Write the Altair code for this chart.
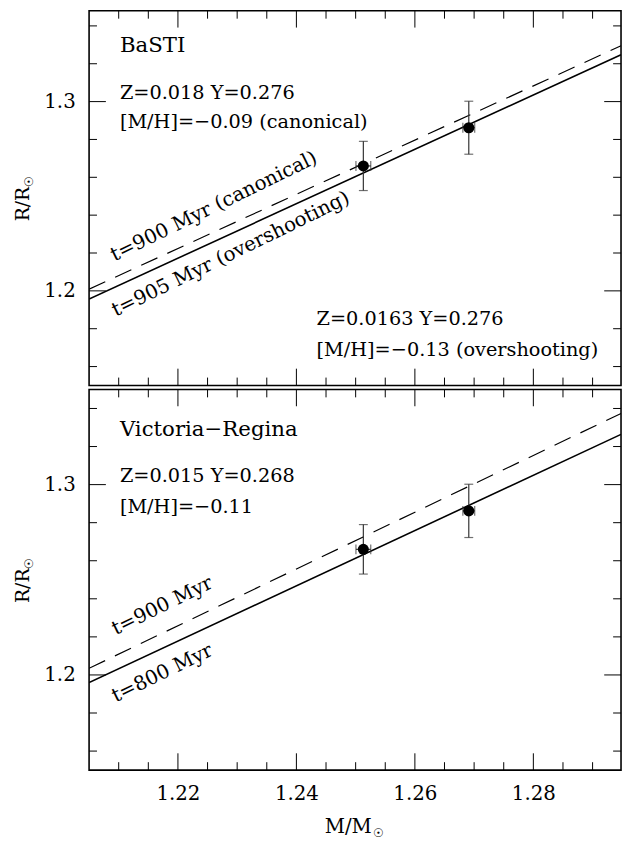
import altair as alt
import pandas as pd

FONT = "DejaVu Serif"

# ---- axes ranges / ticks ----
x_domain = [1.205, 1.2948]
y_domain_top = [1.15, 1.348]
y_domain_bot = [1.15, 1.35]

x_major = [1.22, 1.24, 1.26, 1.28]
x_minor = [1.21, 1.215, 1.225, 1.23, 1.235, 1.245, 1.25, 1.255,
           1.265, 1.27, 1.275, 1.285, 1.29]
y_major = [1.2, 1.3]
y_minor = [1.16, 1.18, 1.22, 1.24, 1.26, 1.28, 1.32, 1.34]

# ---- observed stars ----
mass = [1.2513, 1.2691]
mass_err = [0.00125, 0.0010]
radius = [1.2660, 1.2862]
radius_err = [0.0130, 0.0140]

# ---- isochrones (R at the two ends of the mass range) ----
line_mass = [1.205, 1.2948]
basti_overshoot = [1.1957, 1.3248]   # t=905 Myr (overshooting), solid
basti_canonical = [1.2009, 1.3295]   # t=900 Myr (canonical), dashed
vr_800 = [1.1960, 1.3264]            # t=800 Myr, solid
vr_900 = [1.2035, 1.3374]            # t=900 Myr, dashed

# ---- annotations ----
top_labels = ["BaSTI", "Z=0.018 Y=0.276", "[M/H]=\u22120.09 (canonical)",
              "Z=0.0163 Y=0.276", "[M/H]=\u22120.13 (overshooting)"]
top_label_x = [1.2102, 1.2102, 1.2102, 1.2434, 1.2434]
top_label_y = [1.3291, 1.3045, 1.2893, 1.1849, 1.1688]
top_label_size = [21.5, 19.5, 19.5, 19.5, 19.5]

top_rot_labels = ["t=900 Myr (canonical)", "t=905 Myr (overshooting)"]
top_rot_x = [1.2093, 1.2095]
top_rot_y = [1.2155, 1.1863]

bot_labels = ["Victoria\u2212Regina", "Z=0.015 Y=0.268", "[M/H]=\u22120.11"]
bot_label_x = [1.2102, 1.2102, 1.2102]
bot_label_y = [1.3287, 1.3043, 1.2882]
bot_label_size = [21.5, 19.5, 19.5]

bot_rot_labels = ["t=900 Myr", "t=800 Myr"]
bot_rot_x = [1.2095, 1.2095]
bot_rot_y = [1.2209, 1.1855]

x_title = ["M/M", "\u2609"]
y_title = ["R/R", "\u2609"]

W = 538
H_TOP = 379
H_BOT = 385
MAJ = 17
MIN = 8


def tick_layers(h, ydom):
    xs = alt.Scale(domain=x_domain, nice=False, zero=False)
    ys = alt.Scale(domain=ydom, nice=False, zero=False)
    layers = []
    for vals, ln in ((x_major, MAJ), (x_minor, MIN)):
        df = pd.DataFrame({"t": vals})
        for y0, y1 in ((h, h - ln), (0, ln)):
            layers.append(alt.Chart(df).mark_rule(color="black", strokeWidth=1).encode(
                x=alt.X("t:Q", scale=xs), y=alt.value(y0), y2=alt.value(y1)))
    for vals, ln in ((y_major, MAJ), (y_minor, MIN)):
        df = pd.DataFrame({"t": vals})
        for x0, x1 in ((0, ln), (W, W - ln)):
            layers.append(alt.Chart(df).mark_rule(color="black", strokeWidth=1).encode(
                y=alt.Y("t:Q", scale=ys), x=alt.value(x0), x2=alt.value(x1)))
    return layers


def title_layers(h, bottom):
    layers = []
    # y title (rotated, reading upwards), subscript sun symbol
    ydf = pd.DataFrame({"t": [y_title[0]]})
    layers.append(alt.Chart(ydf).mark_text(
        font=FONT, fontSize=19, angle=270, align="center", baseline="middle",
        color="black").encode(text="t:N", x=alt.value(-67), y=alt.value(h / 2 + 6)))
    sdf = pd.DataFrame({"t": [y_title[1]]})
    layers.append(alt.Chart(sdf).mark_text(
        font=FONT, fontSize=12, angle=270, align="left", baseline="middle",
        color="black").encode(text="t:N", x=alt.value(-61), y=alt.value(h / 2 - 11)))
    if bottom:
        xdf = pd.DataFrame({"t": [x_title[0]]})
        layers.append(alt.Chart(xdf).mark_text(
            font=FONT, fontSize=20, align="right", baseline="alphabetic",
            color="black").encode(text="t:N", x=alt.value(W / 2 + 17), y=alt.value(h + 64)))
        xsdf = pd.DataFrame({"t": [x_title[1]]})
        layers.append(alt.Chart(xsdf).mark_text(
            font=FONT, fontSize=12, align="left", baseline="alphabetic",
            color="black").encode(text="t:N", x=alt.value(W / 2 + 18), y=alt.value(h + 68)))
    return layers


def panel(h, ydom, solid, dashed, labels, lx, ly, lsize, rlabels, rx, ry, angle, bottom):
    xs = alt.Scale(domain=x_domain, nice=False, zero=False)
    ys = alt.Scale(domain=ydom, nice=False, zero=False)
    if bottom:
        xaxis = alt.Axis(values=x_major, format=".2f", title=None,
                         labelFontSize=20, labelPadding=14)
    else:
        xaxis = None
    yaxis = alt.Axis(values=y_major, format=".1f", title=None,
                     labelFontSize=20, labelPadding=14)

    lines = pd.DataFrame({
        "m": line_mass + line_mass,
        "r": solid + dashed,
        "kind": ["solid", "solid", "dashed", "dashed"],
    })
    base_line = alt.Chart(lines).encode(
        x=alt.X("m:Q", scale=xs, axis=xaxis),
        y=alt.Y("r:Q", scale=ys, axis=yaxis),
    )
    solid_line = base_line.transform_filter(alt.datum.kind == "solid").mark_line(
        color="black", strokeWidth=1.6, clip=True)
    dashed_line = base_line.transform_filter(alt.datum.kind == "dashed").mark_line(
        color="black", strokeWidth=1.2, strokeDash=[18, 11], clip=True)

    pts = pd.DataFrame({"m": mass, "me": mass_err, "r": radius, "re": radius_err})
    pts["m_lo"] = pts["m"] - pts["me"]
    pts["m_hi"] = pts["m"] + pts["me"]
    pts["r_lo"] = pts["r"] - pts["re"]
    pts["r_hi"] = pts["r"] + pts["re"]
    pbase = alt.Chart(pts)
    ebar_col = "#333333"
    vbar = pbase.mark_rule(color=ebar_col, strokeWidth=1.2).encode(
        x=alt.X("m:Q", scale=xs), y=alt.Y("r_lo:Q", scale=ys), y2="r_hi:Q")
    vcap_lo = pbase.mark_tick(orient="horizontal", size=9, thickness=1.2, color=ebar_col).encode(
        x=alt.X("m:Q", scale=xs), y=alt.Y("r_lo:Q", scale=ys))
    vcap_hi = pbase.mark_tick(orient="horizontal", size=9, thickness=1.2, color=ebar_col).encode(
        x=alt.X("m:Q", scale=xs), y=alt.Y("r_hi:Q", scale=ys))
    hbar = pbase.mark_rule(color=ebar_col, strokeWidth=1.2).encode(
        x=alt.X("m_lo:Q", scale=xs), x2="m_hi:Q", y=alt.Y("r:Q", scale=ys))
    hcap_lo = pbase.mark_tick(orient="vertical", size=10, thickness=1.2, color=ebar_col).encode(
        x=alt.X("m_lo:Q", scale=xs), y=alt.Y("r:Q", scale=ys))
    hcap_hi = pbase.mark_tick(orient="vertical", size=10, thickness=1.2, color=ebar_col).encode(
        x=alt.X("m_hi:Q", scale=xs), y=alt.Y("r:Q", scale=ys))
    dots = pbase.mark_circle(size=125, color="black", opacity=1).encode(
        x=alt.X("m:Q", scale=xs), y=alt.Y("r:Q", scale=ys))

    lab = pd.DataFrame({"txt": labels, "x": lx, "y": ly, "s": lsize})
    texts = alt.Chart(lab).mark_text(align="left", baseline="middle", font=FONT,
                                     color="black").encode(
        x=alt.X("x:Q", scale=xs), y=alt.Y("y:Q", scale=ys), text="txt:N",
        size=alt.Size("s:Q", scale=None, legend=None))

    rlab = pd.DataFrame({"txt": rlabels, "x": rx, "y": ry})
    rtexts = alt.Chart(rlab).mark_text(align="left", baseline="alphabetic", font=FONT,
                                       fontSize=20, angle=angle, color="black").encode(
        x=alt.X("x:Q", scale=xs), y=alt.Y("y:Q", scale=ys), text="txt:N")

    layers = ([solid_line, dashed_line, vbar, vcap_lo, vcap_hi, hbar, hcap_lo, hcap_hi,
               dots, texts, rtexts] + tick_layers(h, ydom) + title_layers(h, bottom))
    return alt.layer(*layers).properties(width=W, height=h)


top = panel(H_TOP, y_domain_top, basti_overshoot, basti_canonical,
            top_labels, top_label_x, top_label_y, top_label_size,
            top_rot_labels, top_rot_x, top_rot_y, 334, False)
bot = panel(H_BOT, y_domain_bot, vr_800, vr_900,
            bot_labels, bot_label_x, bot_label_y, bot_label_size,
            bot_rot_labels, bot_rot_x, bot_rot_y, 334, True)

chart = alt.vconcat(top, bot, spacing=0).properties(
    padding={"left": 5, "top": -4, "right": 0, "bottom": 4},
    background="white",
).configure_view(
    stroke="black", strokeWidth=1.6
).configure_axis(
    domain=False, ticks=False, grid=False,
    labelFont=FONT, titleFont=FONT, labelColor="black", titleColor="black",
    titleFontWeight="normal",
)

chart.save("out.html", embed_options={"renderer": "svg", "actions": False})
